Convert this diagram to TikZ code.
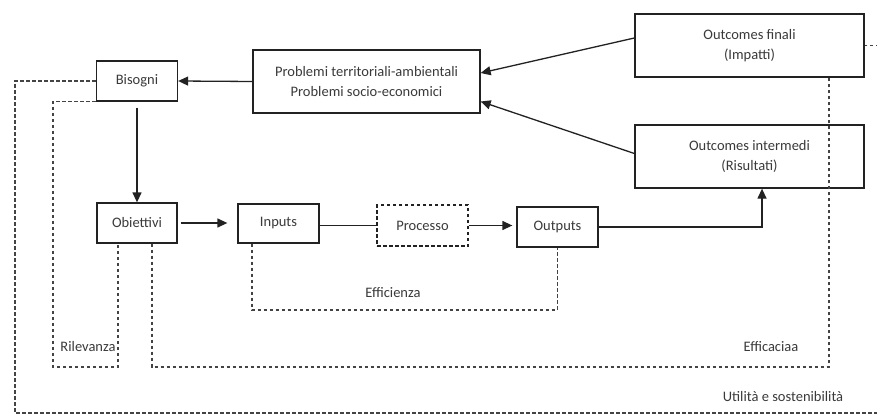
\documentclass[tikz,border=0pt]{standalone}
\usepackage{fontspec}
\setmainfont{Carlito}
\usetikzlibrary{arrows.meta}
\definecolor{txt}{HTML}{3A3A3A}
\definecolor{ln}{HTML}{222222}
\begin{document}
\begin{tikzpicture}[x=1pt,y=-1pt,
  every node/.style={font=\fontsize{14.5}{20}\selectfont,text=txt,align=center,inner sep=0pt},
  box/.style={draw=ln,line width=1.3pt,fill=white},
  arr/.style={draw=ln,line width=1.3pt,-{Triangle[length=10pt,width=9pt]}},
  pln/.style={draw=ln,line width=1.3pt},
  dsh/.style={draw=ln!85,line width=1.3pt,dash pattern=on 3.5pt off 2.5pt}]
\path[use as bounding box,clip] (0,0) rectangle (877,414);
\fill[white] (0,0) rectangle (877,414);
% boxes
\node[box,minimum width=81pt,minimum height=40pt] (bis) at (137,81) {Bisogni};
\node[box,minimum width=227pt,minimum height=63pt] (prob) at (366.5,81.5) {Problemi territoriali-ambientali\\Problemi socio-economici};
\node[box,minimum width=229pt,minimum height=63pt] (fin) at (749.5,45.5) {Outcomes finali\\(Impatti)};
\node[box,minimum width=229pt,minimum height=63pt] (int) at (749.5,156.5) {Outcomes intermedi\\(Risultati)};
\node[box,minimum width=80pt,minimum height=40pt] (obi) at (137,223) {Obiettivi};
\node[box,minimum width=81pt,minimum height=39pt] (inp) at (278.5,223.5) {Inputs};
\node[box,dash pattern=on 3.5pt off 2.5pt,minimum width=91pt,minimum height=41pt] (pro) at (422.5,225.5) {Processo};
\node[box,minimum width=81pt,minimum height=40pt] (out) at (557.5,227) {Outputs};
% coordinates
\coordinate (effc) at (400,310);
\coordinate (rilc) at (53,367);
\coordinate (effcc) at (500,367);
\coordinate (outbl) at (15,413);
\coordinate (outbr) at (900,413);
% solid connectors
\draw[arr] (prob.west) -- (bis.east);
\draw[arr] ([yshift=7.5pt]fin.west) -- ([yshift=8.5pt]prob.east);
\draw[arr] ([yshift=3pt]int.west) -- ([yshift=-20pt]prob.east);
\draw[arr,shorten <=6pt] (bis.south) -- (obi.north);
\draw[arr,shorten >=10pt,shorten <=3pt] (obi.east) -- (obi.east -| inp.west);
\draw[pln] (inp.east |- pro.west) -- (pro.west);
\draw[arr,shorten >=4pt] (pro.east) -- (pro.east -| out.west);
\draw[arr] (out.east) -| ([xshift=12.5pt]int.south);
% dashed loops
\draw[dsh] ([xshift=-26.5pt]inp.south) |- (effc) -| (out.south);
\node (effl) at (393,293) {Efficienza};
\draw[dsh] (bis.south west) -| (rilc) -| ([xshift=-19pt]obi.south);
\node (rill) at (88,347) {Rilevanza};
\draw[dsh] ([xshift=15pt]obi.south) |- (effcc) -| ([xshift=79.5pt]fin.south);
\node (efcl) at (771,347) {Efficaciaa};
\draw[dsh] (bis.west) -| (outbl) -- (outbr) |- (fin.east);
\node (utl) at (783,397) {Utilità e sostenibilità};
\end{tikzpicture}
\end{document}
